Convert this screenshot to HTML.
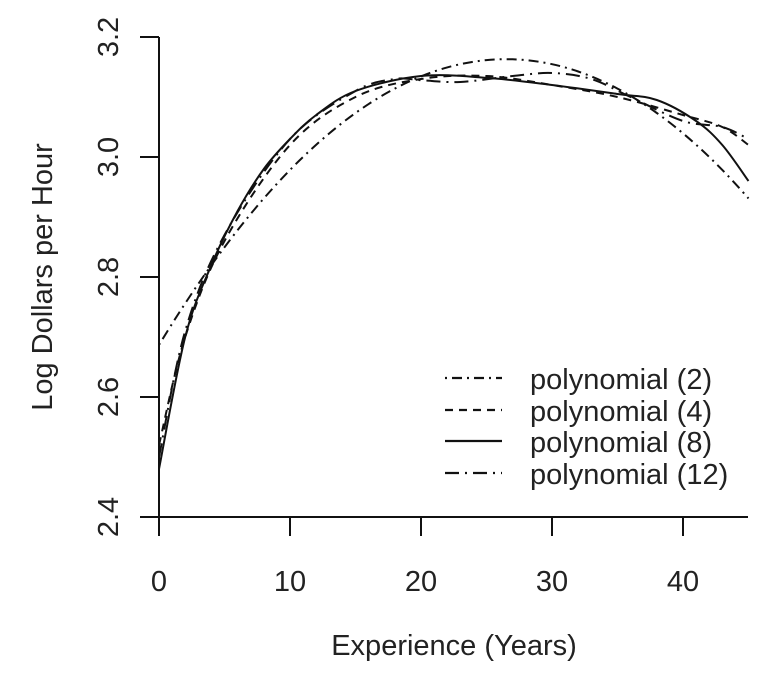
<!DOCTYPE html>
<html><head><meta charset="utf-8"><style>body{margin:0;background:#fff}svg{display:block}</style></head>
<body>
<svg id="s" width="764" height="675" xmlns="http://www.w3.org/2000/svg" font-family="Liberation Sans, sans-serif" fill="#222">
<g stroke="#111" stroke-width="2" fill="none">
<line x1="159" y1="517" x2="748" y2="517"/>
<line x1="159" y1="37" x2="159" y2="517"/>
<line x1="159" y1="517" x2="159" y2="536"/><line x1="290" y1="517" x2="290" y2="536"/><line x1="421" y1="517" x2="421" y2="536"/><line x1="552" y1="517" x2="552" y2="536"/><line x1="683" y1="517" x2="683" y2="536"/>
<line x1="140" y1="517" x2="159" y2="517"/><line x1="140" y1="397" x2="159" y2="397"/><line x1="140" y1="277" x2="159" y2="277"/><line x1="140" y1="157" x2="159" y2="157"/><line x1="140" y1="37" x2="159" y2="37"/>
</g>
<g font-size="29" text-anchor="middle">
<text x="159" y="591">0</text><text x="290" y="591">10</text><text x="421" y="591">20</text><text x="552" y="591">30</text><text x="683" y="591">40</text>
<text x="454" y="655">Experience (Years)</text>
<text transform="translate(118,517) rotate(-90)">2.4</text>
<text transform="translate(118,397) rotate(-90)">2.6</text>
<text transform="translate(118,277) rotate(-90)">2.8</text>
<text transform="translate(118,157) rotate(-90)">3.0</text>
<text transform="translate(118,37) rotate(-90)">3.2</text>
<text transform="translate(52,277) rotate(-90)">Log Dollars per Hour</text>
</g>
<g id="curves" fill="none" stroke="#111" stroke-width="2"></g>
<g stroke="#111" stroke-width="2.2" fill="none">
<line x1="445" y1="378" x2="502" y2="378" stroke-dasharray="2,5,10,5"/>
<line x1="445" y1="410" x2="502" y2="410" stroke-dasharray="8,6"/>
<line x1="445" y1="441" x2="502" y2="441"/>
<line x1="445" y1="473" x2="502" y2="473" stroke-dasharray="14,6,2,6"/>
</g>
<g font-size="29">
<text x="530" y="389">polynomial (2)</text>
<text x="530" y="421">polynomial (4)</text>
<text x="530" y="452">polynomial (8)</text>
<text x="530" y="484">polynomial (12)</text>
</g>
</svg>
<script>
function X(e){return 159+13.1*e}function Y(v){return 517-(v-2.4)*600}
function cr(pts){var p=pts.map(function(a){return[X(a[0]),Y(a[1])]});var d="M"+p[0][0]+","+p[0][1];
for(var i=0;i<p.length-1;i++){var p0=p[i-1]||p[i],p1=p[i],p2=p[i+1],p3=p[i+2]||p2;
d+=" C"+(p1[0]+(p2[0]-p0[0])/6)+","+(p1[1]+(p2[1]-p0[1])/6)+" "+(p2[0]-(p3[0]-p1[0])/6)+","+(p2[1]-(p3[1]-p1[1])/6)+" "+p2[0]+","+p2[1];}return d;}
var q=[];for(var e=0;e<=45;e+=1)q.push([e,3.163-0.000678*(e-26.5)*(e-26.5)]);
var series=[
[q,"2,5,10,5"],
[[[0,2.52],[2,2.70],[5,2.86],[10,3.02],[15,3.10],[20,3.13],[25,3.135],[30,3.12],[35,3.10],[40,3.07],[43,3.05],[45,3.02]],"8,6"],
[[[0,2.48],[2,2.70],[4,2.82],[6,2.91],[8,2.98],[10,3.03],[12,3.07],[15,3.11],[20,3.135],[25,3.132],[30,3.12],[35,3.105],[38,3.095],[41,3.06],[43,3.02],[45,2.96]],""],
[[[0,2.50],[2,2.71],[5,2.87],[10,3.03],[15,3.11],[18,3.13],[20,3.128],[23,3.125],[27,3.135],[30,3.14],[33,3.13],[36,3.10],[40,3.06],[43,3.05],[45,3.03]],"14,6,2,6"]];
var g=document.getElementById("curves");
series.forEach(function(s){var el=document.createElementNS("http://www.w3.org/2000/svg","path");el.setAttribute("d",cr(s[0]));if(s[1])el.setAttribute("stroke-dasharray",s[1]);g.appendChild(el);});
</script>
</body></html>
